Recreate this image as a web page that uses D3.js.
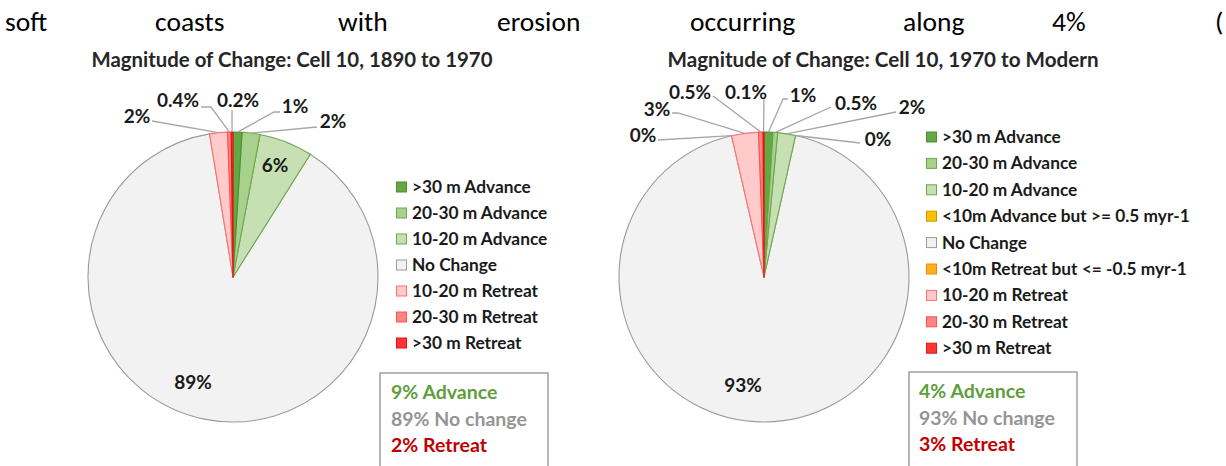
<!DOCTYPE html>
<html><head><meta charset="utf-8">
<script src="https://cdn.jsdelivr.net/npm/d3@7"></script>
<style>
html,body{margin:0;padding:0;background:#fff;}
svg{display:block;font-family:Lato,"Open Sans",sans-serif;}
</style></head>
<body>
<svg id="c" width="1226" height="466"></svg>
<script>
// ---------- DATA ----------
const introWords = ["soft","coasts","with","erosion","occurring","along","4%","("];

const titleA = "Magnitude of Change: Cell 10, 1890 to 1970";
const categoriesA = [">30 m Advance","20-30 m Advance","10-20 m Advance","No Change","10-20 m Retreat","20-30 m Retreat",">30 m Retreat"];
const valuesA = [1, 2, 6, 89, 2, 0.4, 0.2];
const summaryA = ["9% Advance","89% No change","2% Retreat"];

const titleB = "Magnitude of Change: Cell 10, 1970 to Modern";
const categoriesB = [">30 m Advance","20-30 m Advance","10-20 m Advance","<10m Advance but >= 0.5 myr-1","No Change","<10m Retreat but <= -0.5 myr-1","10-20 m Retreat","20-30 m Retreat",">30 m Retreat"];
const valuesB = [1, 0.5, 2, 0, 93, 0, 3, 0.5, 0.1];
const summaryB = ["4% Advance","93% No change","3% Retreat"];

// ---------- STYLE / LAYOUT ----------
const colorMap = {
  ">30 m Advance":["#64a843","#4f8c33"],
  "20-30 m Advance":["#a9d18e","#6fa84c"],
  "10-20 m Advance":["#c6e0b4","#6fa84c"],
  "<10m Advance but >= 0.5 myr-1":["#ffc000","#c99700"],
  "No Change":["#f2f2f2","#9a9a9a"],
  "<10m Retreat but <= -0.5 myr-1":["#ffb020","#f08a00"],
  "10-20 m Retreat":["#ffcaca","#ff7070"],
  "20-30 m Retreat":["#ff8585","#ff5252"],
  ">30 m Retreat":["#ff3535","#e81010"]
};
const summaryColors = ["#5f9e3c","#959595","#c00000"];

const layoutA = {
  cx:233, cy:277, r:145, title:[292,60], titleW:401,
  legendX:396, legendY:187, legendStep:26,
  box:[380,373,168], boxTextX:391,
  labels:[
    {t:[295,106], line:[[280,112],[274,112]]},
    {t:[333,121], line:[[317,127]]},
    {t:[275,165]},
    {t:[193,382]},
    {t:[137,116], line:[[152,121]]},
    {t:[178,100], line:[[201,107],[211,107]]},
    {t:[238,100], line:[[232,110]]}
  ]
};
const layoutB = {
  cx:764, cy:277, r:145, title:[883,60], titleW:431,
  legendX:926, legendY:137, legendStep:26.4,
  box:[909,372,168], boxTextX:919,
  labels:[
    {t:[803,95], line:[[788,99],[783,99]]},
    {t:[856,103], line:[[831,107]]},
    {t:[912,107], line:[[896,112]]},
    {t:[878,139], line:[[860,143]]},
    {t:[743,385]},
    {t:[643,135], line:[[658,140]]},
    {t:[657,109], line:[[672,113],[678,113]]},
    {t:[690,92], line:[[713,96]]},
    {t:[746,92], line:[[764,98]]}
  ]
};

const svg = d3.select("#c");

// intro justified line
const introX = [5,155,338,497,690,903,1052,1215];
introWords.forEach((w,i)=>{
  svg.append("text").attr("x",introX[i]).attr("y",31)
    .attr("font-family","Carlito,Lato,sans-serif").attr("font-size",27.5)
    .attr("fill","#000").text(w);
});

function fitText(sel, target){
  const n = sel.node(); const w = n.getComputedTextLength();
  const fs = parseFloat(sel.attr("font-size"));
  if (w>0) sel.attr("font-size", (fs*target/w).toFixed(2));
}

function drawPie(title, cats, vals, summary, L){
  const g = svg.append("g");
  const t = g.append("text").attr("x",L.title[0]).attr("y",L.title[1]).attr("dy","0.35em")
    .attr("text-anchor","middle").attr("font-weight","bold").attr("font-size",18)
    .attr("fill","#262626").text(title);
  fitText(t, L.titleW);

  const pie = d3.pie().sort(null).value(d=>d.v).startAngle(0).endAngle(2*Math.PI);
  const data = cats.map((c,i)=>({c, v:vals[i]}));
  const arcs = pie(data);
  const arc = d3.arc().innerRadius(0).outerRadius(L.r);
  const pg = g.append("g").attr("transform",`translate(${L.cx},${L.cy})`);
  const order = arcs.map((a,i)=>i).sort((a,b)=>arcs[b].value-arcs[a].value);
  order.forEach(i=>{
    const a = arcs[i];
    if (a.value<=0) return;
    pg.append("path").attr("d",arc(a))
      .attr("fill",colorMap[a.data.c][0])
      .attr("stroke",colorMap[a.data.c][1]).attr("stroke-width",1.1)
      .attr("stroke-linejoin","round");
  });

  arcs.forEach((a,i)=>{
    const lab = L.labels[i];
    const mid = (a.startAngle+a.endAngle)/2;
    const px = L.cx + L.r*Math.sin(mid), py = L.cy - L.r*Math.cos(mid);
    if (lab.line){
      const pts = lab.line.concat([[px,py]]);
      g.append("path").attr("d", d3.line()(pts)).attr("fill","none")
        .attr("stroke","#a6a6a6").attr("stroke-width",1.3);
    }
    g.append("text").attr("x",lab.t[0]).attr("y",lab.t[1]).attr("dy","0.35em")
      .attr("text-anchor","middle").attr("font-weight","bold").attr("font-size",19)
      .attr("fill","#1a1a1a").text(vals[i]+"%");
  });

  cats.forEach((c,i)=>{
    const y = L.legendY + i*L.legendStep;
    g.append("rect").attr("x",L.legendX+0.5).attr("y",y-5).attr("width",10).attr("height",10)
      .attr("fill",colorMap[c][0]).attr("stroke",colorMap[c][1]).attr("stroke-width",1);
    g.append("text").attr("x",L.legendX+16).attr("y",y).attr("dy","0.35em")
      .attr("font-weight","bold").attr("font-size",17.3).attr("fill","#1a1a1a").text(c);
  });

  g.append("rect").attr("x",L.box[0]).attr("y",L.box[1]).attr("width",L.box[2]).attr("height",120)
    .attr("fill","#fff").attr("stroke","#a0a0a0").attr("stroke-width",1.5);
  summary.forEach((s,i)=>{
    g.append("text").attr("x",L.boxTextX).attr("y",L.box[1]+19+i*26.7).attr("dy","0.35em")
      .attr("font-weight","bold").attr("font-size",19.5).attr("fill",summaryColors[i]).text(s);
  });
}

drawPie(titleA, categoriesA, valuesA, summaryA, layoutA);
drawPie(titleB, categoriesB, valuesB, summaryB, layoutB);
</script>
</body></html>
